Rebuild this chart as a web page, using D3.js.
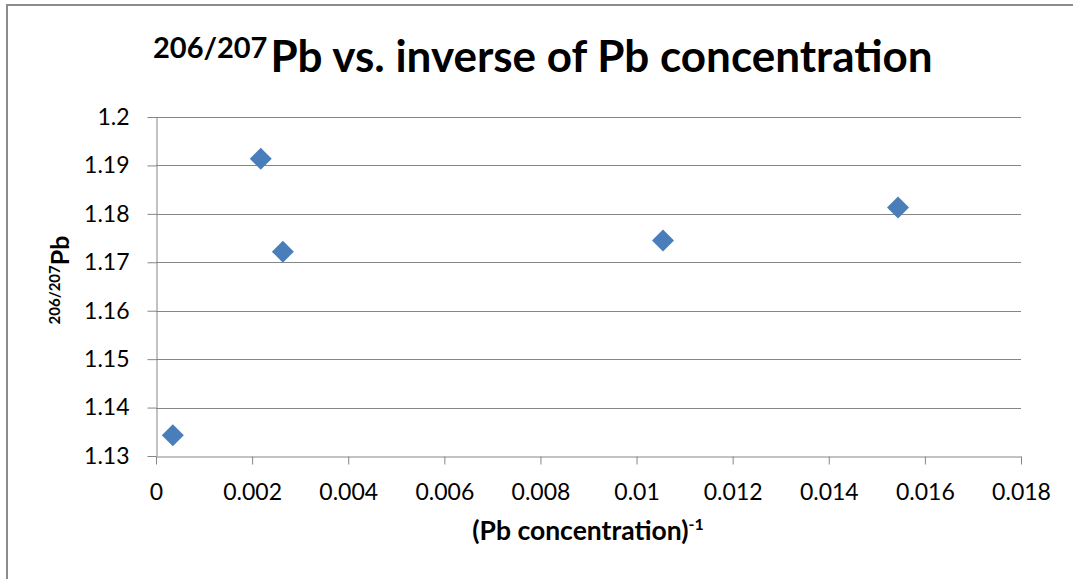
<!DOCTYPE html>
<html>
<head>
<meta charset="utf-8">
<script src="https://cdn.jsdelivr.net/npm/d3@7"></script>
<style>
  body { margin: 0; background: #fff; }
  svg text { font-family: Lato, "Open Sans", sans-serif; fill: #000; }
  .axis path, .axis line { stroke: #868686; }
  .grid line { stroke: #868686; }
</style>
</head>
<body>
<div class="chart"></div>
<script>
// 206/207Pb ratio against inverse Pb concentration

var xValues = [0.00035, 0.00218, 0.00264, 0.01055, 0.01544];
var yValues = [1.1343, 1.1914, 1.1722, 1.1745, 1.1813];
var xTicks = [0, 0.002, 0.004, 0.006, 0.008, 0.01, 0.012, 0.014, 0.016, 0.018];
var yTicks = [1.13, 1.14, 1.15, 1.16, 1.17, 1.18, 1.19, 1.2];

var width = 1073,
	height = 579,
	margin = {top: 117, right: 52, bottom: 123, left: 156};

var svg = d3.select(".chart").append("svg")
	.attr("width", width)
	.attr("height", height);

// outer chart frame (runs off the right and bottom edge)
svg.append("rect")
	.attr("x", 7).attr("y", 5)
	.attr("width", width + 20).attr("height", height + 20)
	.attr("fill", "#fff")
	.attr("stroke", "#8c8c8c")
	.attr("stroke-width", 2);

var x = d3.scaleLinear().domain([0, 0.018]).range([margin.left, width - margin.right]),
	y = d3.scaleLinear().domain([1.13, 1.2]).range([height - margin.bottom, margin.top]);

var data = xValues.map(function(v, i) { return {x: v, y: yValues[i]}; });

// horizontal gridlines
svg.append("g")
	.attr("class", "grid")
	.selectAll("line")
	.data(yTicks.slice(1))
	.enter().append("line")
		.attr("x1", x(0)).attr("x2", x(0.018))
		.attr("y1", function(d) { return Math.round(y(d)) + 0.5; })
		.attr("y2", function(d) { return Math.round(y(d)) + 0.5; });

var xAxis = svg.append("g")
	.attr("class", "axis axis--x")
	.attr("transform", "translate(0," + (Math.round(y(1.13)) + 0.5) + ")")
	.call(d3.axisBottom(x).tickValues(xTicks).tickSize(8).tickSizeOuter(0)
		.tickFormat(function(d) { return d === 0 ? "0" : String(+d.toFixed(3)); }));
xAxis.selectAll("text").style("font-size", "23px").attr("dy", "1.4em");

var yAxis = svg.append("g")
	.attr("class", "axis axis--y")
	.attr("transform", "translate(" + (Math.round(x(0)) + 0.5) + ",0)")
	.call(d3.axisLeft(y).tickValues(yTicks).tickSize(9).tickSizeOuter(0)
		.tickFormat(function(d) { return String(+d.toFixed(2)); }));
yAxis.selectAll("text").style("font-size", "23px").attr("x", -27);
xAxis.select(".domain").attr("stroke", "#868686");
yAxis.select(".domain").attr("stroke", "#868686");

// diamond markers
svg.append("g").selectAll("path")
	.data(data)
	.enter().append("path")
		.attr("d", "M0,-11L11,0L0,11L-11,0Z")
		.attr("transform", function(d) { return "translate(" + x(d.x) + "," + y(d.y) + ")"; })
		.attr("fill", "#4a7ebb");

// title
var title = svg.append("text")
	.attr("x", 153)
	.attr("y", 72)
	.style("font-weight", "bold");
title.append("tspan")
	.attr("dy", -14)
	.style("font-size", "29px")
	.text("206/207");
title.append("tspan")
	.attr("dx", 3)
	.attr("dy", 14)
	.style("font-size", "44px")
	.text("Pb vs. inverse of Pb concentration");

// x axis title
var xt = svg.append("text")
	.attr("x", 588)
	.attr("y", 540)
	.style("text-anchor", "middle")
	.style("font-weight", "bold");
xt.append("tspan").style("font-size", "26.5px").text("(Pb concentration)");
xt.append("tspan").attr("dy", -10).style("font-size", "16px").text("-1");

// y axis title
var yt = svg.append("text")
	.attr("transform", "translate(69,280) rotate(-90)")
	.style("text-anchor", "middle")
	.style("font-weight", "bold");
yt.append("tspan").attr("dy", -9).style("font-size", "15px").text("206/207");
yt.append("tspan").attr("dy", 9).style("font-size", "25px").text("Pb");
</script>
</body>
</html>
